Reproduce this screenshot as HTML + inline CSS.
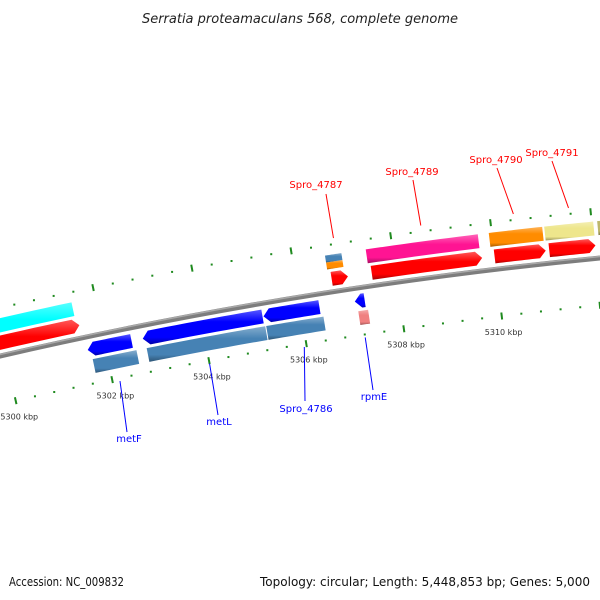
<!DOCTYPE html>
<html><head><meta charset="utf-8"><style>
html,body{margin:0;padding:0;background:#fff;}
svg{display:block;font-family:"DejaVu Sans","Liberation Sans",sans-serif;}
</style></head><body>
<svg id="map" width="600" height="600" viewBox="0 0 600 600">
<defs id="defs"></defs>
<text x="300" y="23" text-anchor="middle" font-size="13" font-style="italic" fill="#222">Serratia proteamaculans 568, complete genome</text>
<g id="ticks"></g>
<g id="backbone"></g>
<g id="features"></g>
<g id="labels"></g>
<text x="9" y="586" font-size="12" fill="#111" textLength="115" lengthAdjust="spacingAndGlyphs">Accession: NC_009832</text>
<text x="590" y="586" font-size="12" fill="#111" text-anchor="end" textLength="330" lengthAdjust="spacingAndGlyphs">Topology: circular; Length: 5,448,853 bp; Genes: 5,000</text>
</svg>
<script>
// ---- data (kbp positions) ----
const fwdCdsStart = [5298.4, 5306.71, 5307.52, 5310.00, 5311.10, 5312.17];
const fwdCdsEnd   = [5301.58, 5307.04, 5309.75, 5311.03, 5312.03, 5313.6];
const fwdCogStart = [5298.4, 5306.65, 5307.47, 5309.94, 5311.05, 5312.11];
const fwdCogEnd   = [5301.52, 5306.98, 5309.72, 5311.01, 5312.03, 5313.6];
const fwdCogColor = ["#00ffff", "multi", "#ff1493", "#ff8c00", "#eee68c", "#bdb76b"];
const revCdsStart = [5301.64, 5302.77, 5305.24, 5307.10];
const revCdsEnd   = [5302.54, 5305.22, 5306.38, 5307.30];
const revCogStart = [5301.70, 5302.81, 5305.26, 5307.14];
const revCogEnd   = [5302.60, 5305.24, 5306.43, 5307.34];
const revCogColor = ["#4682b4", "#4682b4", "#4682b4", "#f08080"];
const tickStartKbp = 5298;
const tickEndKbp = 5314;
const minorStepKbp = 0.4;
const majorStepKbp = 2;
const fwdLabelNames = ["Spro_4787", "Spro_4789", "Spro_4790", "Spro_4791"];
const fwdLabelKbp   = [5306.87, 5308.62, 5310.47, 5311.57];
const revLabelNames = ["metF", "metL", "Spro_4786", "rpmE"];
const revLabelKbp   = [5302.15, 5304.0, 5305.95, 5307.20];

// ---- layout ----
const CX = 1054, CY = 4922, R = 4686;
const THETA_REF = Math.atan2(402 - 4922, 16 - 1054);
const DTHETA = 0.01064;
const fwdLabelText = [[316,188],[412,175],[496,163],[552,156]];
const fwdLabelLineEnd = [[326,194],[413,180],[497,168],[552,161]];
const revLabelText = [[129,442],[219,425],[306,412],[374,400]];
const revLabelLineEnd = [[127,432],[218,415],[305,401],[373,390]];

const NS = "http://www.w3.org/2000/svg";
const defs = document.getElementById('defs');
function ang(k){ return THETA_REF + (k - 5300) * DTHETA; }
function pt(k, r){ const a = ang(k); return [CX + r*Math.cos(a), CY + r*Math.sin(a)]; }
function mk(tag, attrs, parent){ const e = document.createElementNS(NS, tag); for (const k in attrs) e.setAttribute(k, attrs[k]); parent.appendChild(e); return e; }

let gid = 0;
function shade(hex, f){
  const n = parseInt(hex.slice(1),16); let r=n>>16, g=(n>>8)&255, b=n&255;
  if (f>0){ r=r+(255-r)*f; g=g+(255-g)*f; b=b+(255-b)*f; } else { r=r*(1+f); g=g*(1+f); b=b*(1+f); }
  return 'rgb('+Math.round(r)+','+Math.round(g)+','+Math.round(b)+')';
}
function grad(color){
  const id = 'g'+(gid++);
  const lg = mk('linearGradient', {id:id, x1:0, y1:0, x2:0, y2:1}, defs);
  mk('stop', {offset:'0', 'stop-color':shade(color,0.35)}, lg);
  mk('stop', {offset:'0.35', 'stop-color':color}, lg);
  mk('stop', {offset:'0.8', 'stop-color':color}, lg);
  mk('stop', {offset:'1', 'stop-color':shade(color,-0.35)}, lg);
  return 'url(#'+id+')';
}
function arcShape(s, e, r1, r2, shape){
  const head = 0.13; const rm = (r1+r2)/2;
  let a = s, b = e;
  if (shape==='right') b = Math.max(s, e-head);
  if (shape==='left') a = Math.min(e, s+head);
  const n = 12, outer = [], inner = [];
  for (let i=0;i<=n;i++){ const k = a+(b-a)*i/n; outer.push(pt(k,r2)); inner.push(pt(k,r1)); }
  let pts = [];
  if (shape==='left') pts.push(pt(s, rm));
  pts = pts.concat(outer);
  if (shape==='right') pts.push(pt(e, rm));
  pts = pts.concat(inner.reverse());
  return pts.map(p=>p[0].toFixed(2)+','+p[1].toFixed(2)).join(' ');
}

// ticks
const tg = document.getElementById('ticks');
const nT = Math.round((tickEndKbp - tickStartKbp)/minorStepKbp);
for (let i=0;i<=nT;i++){
  const k = tickStartKbp + i*minorStepKbp;
  const major = Math.abs(k/majorStepKbp - Math.round(k/majorStepKbp)) < 1e-6;
  [47, -47].forEach(off => {
    let el;
    if (major){
      const p1 = pt(k, R+off-3.5), p2 = pt(k, R+off+3.5);
      el = mk('line', {x1:p1[0], y1:p1[1], x2:p2[0], y2:p2[1], stroke:'#1f8a1f', 'stroke-width':2}, tg);
    } else {
      const p = pt(k, R+off);
      el = mk('rect', {x:p[0]-1, y:p[1]-1, width:2, height:2, fill:'#1f8a1f'}, tg);
    }
    
    
  });
  if (major){
    const p = pt(k, R-63);
    if (p[0] > 580) continue;
    const t = mk('text', {x:p[0], y:p[1]+3, 'text-anchor':'middle', 'font-size':8, fill:'#333'}, tg);
    t.textContent = Math.round(k) + ' kbp';
    
    
  }
}

// backbone
const bg = document.getElementById('backbone');
function arcPath(r, k1, k2){
  const p1 = pt(k1, r), p2 = pt(k2, r);
  return 'M'+p1[0]+','+p1[1]+' A'+r+','+r+' 0 0 1 '+p2[0]+','+p2[1];
}
const bb1 = mk('path', {d:arcPath(R, 5297, 5315), stroke:'#7d7d7d', 'stroke-width':5, fill:'none'}, bg);


const bb2 = mk('path', {d:arcPath(R+1.5, 5297, 5315), stroke:'#a9a9a9', 'stroke-width':1.5, fill:'none'}, bg);



// features
const fg = document.getElementById('features');
for (let i=0;i<fwdCdsStart.length;i++){
  const p = mk('polygon', {points:arcShape(fwdCdsStart[i], fwdCdsEnd[i], R+6, R+20, 'right'), fill:grad('#ff0000')}, fg);
  
  
  if (fwdCogColor[i]==='multi'){
    const a = mk('polygon', {points:arcShape(fwdCogStart[i], fwdCogEnd[i], R+23, R+30, 'box'), fill:grad('#ff8c00')}, fg);
    
    
    const b = mk('polygon', {points:arcShape(fwdCogStart[i], fwdCogEnd[i], R+30, R+37, 'box'), fill:grad('#4682b4')}, fg);
    
    
  } else {
    const c = mk('polygon', {points:arcShape(fwdCogStart[i], fwdCogEnd[i], R+23, R+37, 'box'), fill:grad(fwdCogColor[i])}, fg);
    
    
  }
}
for (let i=0;i<revCdsStart.length;i++){
  const p = mk('polygon', {points:arcShape(revCdsStart[i], revCdsEnd[i], R-20, R-6, 'left'), fill:grad('#0000ff')}, fg);
  
  
  const c = mk('polygon', {points:arcShape(revCogStart[i], revCogEnd[i], R-37, R-23, 'box'), fill:grad(revCogColor[i])}, fg);
  
  
}

// labels
const lg = document.getElementById('labels');
for (let i=0;i<fwdLabelNames.length;i++){
  const s = pt(fwdLabelKbp[i], R+53), e = fwdLabelLineEnd[i];
  const l = mk('line', {x1:s[0], y1:s[1], x2:e[0], y2:e[1], stroke:'#ff0000', 'stroke-width':1}, lg);
  
  
  const t = mk('text', {x:fwdLabelText[i][0], y:fwdLabelText[i][1], 'text-anchor':'middle', 'font-size':10, fill:'#ff0000'}, lg);
  t.textContent = fwdLabelNames[i];
  
  
}
for (let i=0;i<revLabelNames.length;i++){
  const s = pt(revLabelKbp[i], R-50), e = revLabelLineEnd[i];
  const l = mk('line', {x1:s[0], y1:s[1], x2:e[0], y2:e[1], stroke:'#0000ff', 'stroke-width':1}, lg);
  
  
  const t = mk('text', {x:revLabelText[i][0], y:revLabelText[i][1], 'text-anchor':'middle', 'font-size':10, fill:'#0000ff'}, lg);
  t.textContent = revLabelNames[i];
  
  
}
</script>
</body></html>
